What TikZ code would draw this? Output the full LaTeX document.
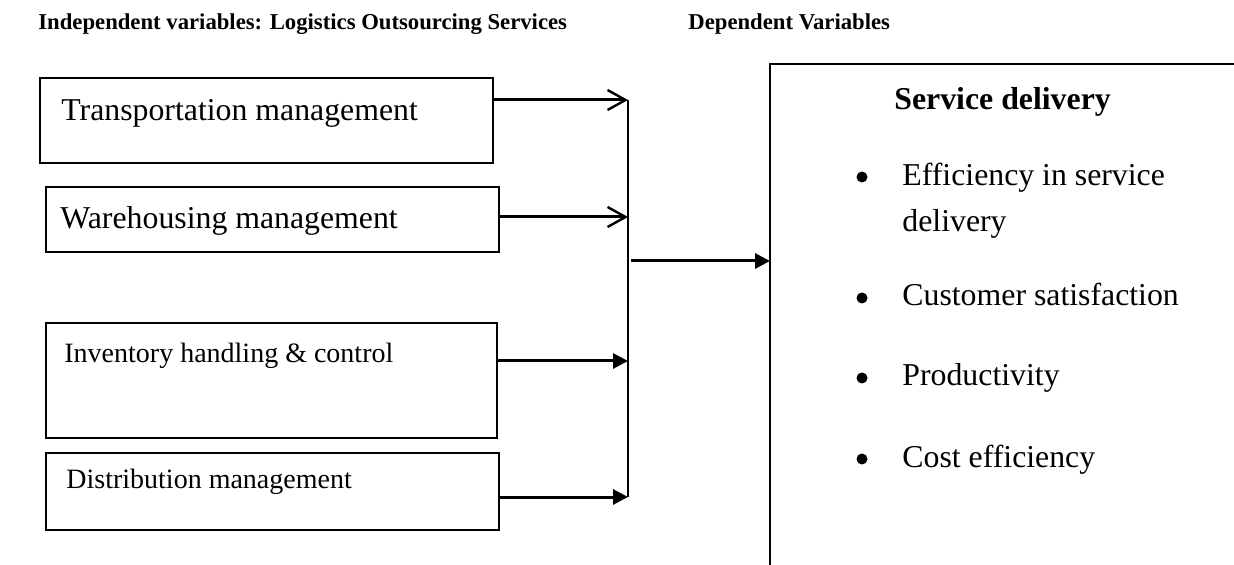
\documentclass[tikz,border=0pt]{standalone}
\usepackage{fontspec}
\setmainfont{Liberation Serif}
\usetikzlibrary{positioning}
\usetikzlibrary{arrows.meta}

\begin{document}
\begin{tikzpicture}[x=0.5pt, y=-0.5pt,
                varbox/.style={rectangle, draw, line width=0.65pt, inner sep=0pt},
                vartext/.style={anchor=base west, inner sep=0pt, font=\fontsize{15.9}{19}\selectfont},
                smalltext/.style={anchor=base west, inner sep=0pt, font=\fontsize{14}{17}\selectfont},
                headtext/.style={anchor=base west, inner sep=0pt, font=\bfseries\fontsize{11.35}{14}\selectfont},
                bulletdot/.style={circle, fill, inner sep=0pt, minimum size=5.5pt},
                openarrow/.style={-{Straight Barb[length=9pt,width=10pt,line width=1.2pt]}, line width=1.5pt},
                fullarrow/.style={-{Triangle[length=7.5pt,width=7.5pt]}, line width=1.5pt},
            ]
            \useasboundingbox (0,0) rectangle (1234,565);

            % Headings
            \node[headtext]         (indep_head)    at (38,30)      {Independent variables: Logistics Outsourcing Services};
            \node[headtext]         (dep_head)      at (688,30)     {Dependent Variables};

            % Independent variables
            \node[varbox, minimum width=226.5pt, minimum height=42.5pt]   (transport)   at (266.5,120.5)  {};
            \node[varbox, minimum width=226.5pt, minimum height=32.5pt]   (warehouse)   at (272.5,219.5)  {};
            \node[varbox, minimum width=225.5pt, minimum height=57.5pt]   (inventory)   at (271.5,380.5)  {};
            \node[varbox, minimum width=226.5pt, minimum height=38.5pt]   (distrib)     at (272.5,491.5)  {};

            \node[vartext]          (transport_lbl) at (61,121)     {Transportation management};
            \node[vartext]          (warehouse_lbl) at (60,229)     {Warehousing management};
            \node[smalltext]        (inventory_lbl) at (64,363)     {Inventory handling \& control};
            \node[smalltext]        (distrib_lbl)   at (66,488)     {Distribution management};

            % Dependent variable
            \coordinate (res_topright)  at (1234,64);
            \coordinate (res_top)       at (770,64);
            \coordinate (res_bottom)    at (770,565);

            \node[vartext, font=\bfseries\fontsize{15.9}{19}\selectfont] (service_head) at (894,110) {Service delivery};

            \node[bulletdot]        (dot_eff)       at (862,177)    {};
            \node[vartext, anchor=north west, align=left, font=\fontsize{15.9}{23}\selectfont]
                                    (item_eff)      at (902,163)    {Efficiency in service\\delivery};
            \node[bulletdot]        (dot_cust)      at (862,298)    {};
            \node[vartext]          (item_cust)     at (902,306)    {Customer satisfaction};
            \node[bulletdot]        (dot_prod)      at (862,378)    {};
            \node[vartext]          (item_prod)     at (902,386)    {Productivity};
            \node[bulletdot]        (dot_cost)      at (862,459)    {};
            \node[vartext]          (item_cost)     at (902,467)    {Cost efficiency};

            % Collector
            \coordinate (bus_top)       at (628,100);
            \coordinate (bus_wh)        at (628,217);
            \coordinate (bus_inv)       at (628,361);
            \coordinate (bus_bottom)    at (628,497);
            \coordinate (bus_out)       at (631,261);

            %Lines
            \draw[line width=0.65pt] (res_topright) -- (res_top) -- (res_bottom);
            \draw[line width=1pt] (bus_top) -- (bus_bottom);

            \draw[openarrow] (transport.east |- bus_top) -- (bus_top);
            \draw[openarrow] (warehouse.east |- bus_wh) -- (bus_wh);
            \draw[fullarrow] (inventory.east |- bus_inv) -- (bus_inv);
            \draw[fullarrow] (distrib.east |- bus_bottom) -- (bus_bottom);

            \draw[fullarrow] (bus_out) -- (res_top |- bus_out);
        \end{tikzpicture}
\end{document}
